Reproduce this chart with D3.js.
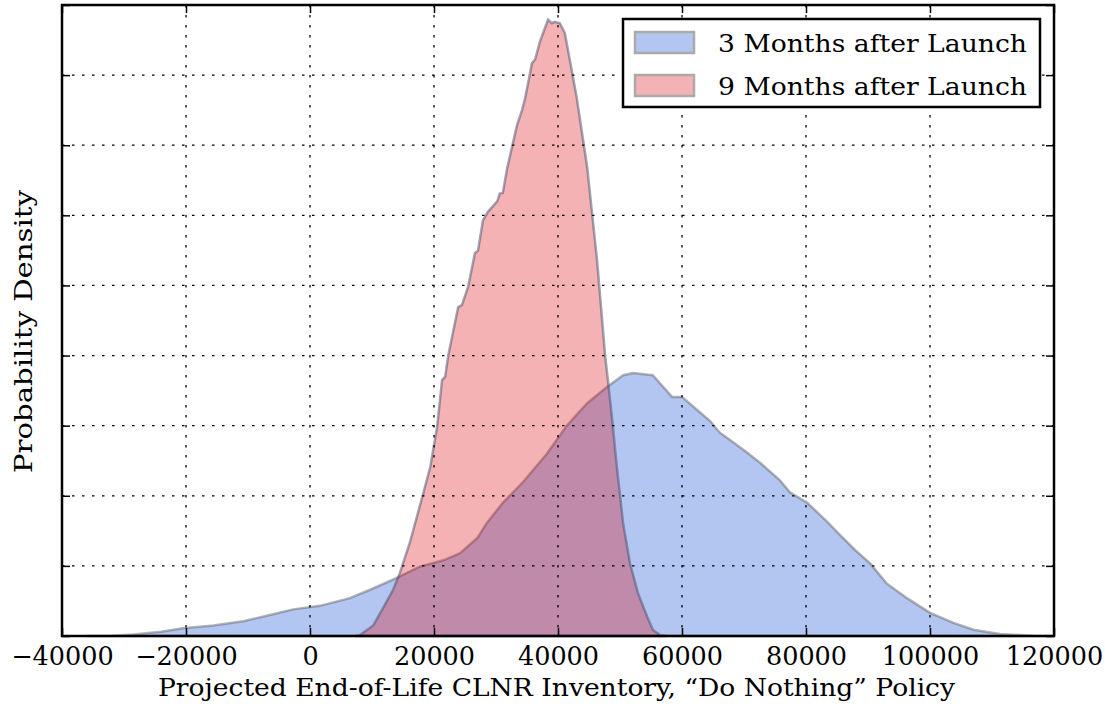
<!DOCTYPE html>
<html>
<head>
<meta charset="utf-8">
<script src="https://cdn.jsdelivr.net/npm/d3@7"></script>
<style>
  body { margin: 0; background: #fff; }
</style>
</head>
<body>
<svg id="chart" width="1105" height="715"></svg>
<script>
// series: inventory values (x) and density heights (y)
var x3 = [-36000, -32000, -28500, -24000, -20500, -15600, -10800, -7000, -2700, 1600,
          6400, 9700, 14000, 17700, 21500, 24200, 27000, 28500, 31100, 34400,
          38200, 41400, 44700, 47900, 50500, 52100, 55300, 58400, 60000, 62500,
          64500, 66100, 67700, 70000, 72600, 75800, 77400, 80200, 83400, 85500,
          88000, 90300, 93000, 96300, 100000, 103700, 107000, 111300, 116600, 120000];
var y3 = [0, 0.003, 0.02, 0.06, 0.11, 0.15, 0.21, 0.29, 0.38, 0.43,
          0.54, 0.66, 0.83, 0.99, 1.08, 1.18, 1.40, 1.61, 1.90, 2.20,
          2.60, 3.00, 3.32, 3.55, 3.72, 3.75, 3.72, 3.41, 3.41, 3.22,
          3.07, 2.90, 2.80, 2.65, 2.47, 2.22, 2.05, 1.90, 1.63, 1.44,
          1.22, 1.04, 0.75, 0.54, 0.33, 0.19, 0.09, 0.03, 0.003, 0];

var x9 = [7300, 8000, 10200, 11800, 13400, 14500, 16100, 18100, 19400, 20500,
          21300, 21800, 22300, 23900, 24500, 25500, 26600, 27100, 27900, 28700,
          30200, 30600, 31100, 31800, 32600, 33400, 34200, 34700, 35800, 36300,
          37100, 37600, 38400, 39000, 39500, 40300, 41100, 41900, 43000, 44700,
          46300, 47600, 48100, 48700, 49500, 50500, 51600, 52900, 54400, 55300,
          56500, 57500];
var y9 = [0, 0.01, 0.15, 0.40, 0.66, 0.90, 1.33, 1.98, 2.41, 2.98,
          3.65, 3.70, 4.00, 4.69, 4.72, 4.98, 5.46, 5.50, 5.93, 6.05,
          6.20, 6.31, 6.32, 6.67, 6.98, 7.29, 7.50, 7.67, 8.17, 8.22,
          8.48, 8.60, 8.79, 8.74, 8.76, 8.74, 8.60, 8.22, 7.69, 6.69,
          5.36, 4.00, 3.61, 3.12, 2.41, 1.61, 1.04, 0.61, 0.27, 0.09,
          0.01, 0];

var seriesNames = ["3 Months after Launch", "9 Months after Launch"];
var xTicks = [-40000, -20000, 0, 20000, 40000, 60000, 80000, 100000, 120000];
var yTicks = [0, 1, 2, 3, 4, 5, 6, 7, 8, 9];

var serif = "DejaVu Serif";
var svg = d3.select("#chart");
var pLeft = 62, pRight = 1054, pTop = 5, pBottom = 636;

var x = d3.scaleLinear().domain([-40000, 120000]).range([pLeft, pRight]);
var y = d3.scaleLinear().domain([0, 9]).range([pBottom, pTop]);

var area = d3.area()
  .x(function(d){ return x(d[0]); })
  .y0(y(0))
  .y1(function(d){ return y(d[1]); });

var d3m = d3.zip(x3, y3);
var d9m = d3.zip(x9, y9);

// blue first, red on top with transparency
svg.append("path").datum(d3m)
  .attr("d", area)
  .attr("fill", "rgb(179,198,242)")
  .attr("stroke", "rgba(90,90,90,0.45)")
  .attr("stroke-width", 2.5);

svg.append("path").datum(d9m)
  .attr("d", area)
  .attr("fill", "rgba(222,0,8,0.3)")
  .attr("stroke", "rgba(70,80,110,0.5)")
  .attr("stroke-width", 2.5);

// dotted grid drawn over the fills
var grid = svg.append("g").attr("stroke", "#000").attr("stroke-width", 1.3)
  .attr("stroke-dasharray", "2.5,7.5");
grid.selectAll(".gx").data(xTicks.slice(1, -1)).enter().append("line")
  .attr("x1", function(d){ return x(d); }).attr("x2", function(d){ return x(d); })
  .attr("y1", pTop).attr("y2", pBottom);
grid.selectAll(".gy").data(yTicks.slice(1, -1)).enter().append("line")
  .attr("y1", function(d){ return y(d); }).attr("y2", function(d){ return y(d); })
  .attr("x1", pLeft).attr("x2", pRight);

// axes, ticks pointing inward
var xAxis = svg.append("g").attr("transform", "translate(0," + pBottom + ")")
  .call(d3.axisBottom(x).tickValues(xTicks).tickSize(-8).tickPadding(11)
    .tickFormat(function(d){ return d < 0 ? "\u2212" + Math.abs(d) : d; }));
xAxis.select(".domain").remove();
xAxis.attr("font-family", serif).attr("font-size", 25.5);

var xTop = svg.append("g").attr("transform", "translate(0," + pTop + ")")
  .call(d3.axisTop(x).tickValues(xTicks).tickSize(-8).tickFormat(""));
xTop.select(".domain").remove();

var yLeft = svg.append("g").attr("transform", "translate(" + pLeft + ",0)")
  .call(d3.axisLeft(y).tickValues(yTicks).tickSize(-8).tickFormat(""));
yLeft.select(".domain").remove();
var yRight = svg.append("g").attr("transform", "translate(" + pRight + ",0)")
  .call(d3.axisRight(y).tickValues(yTicks).tickSize(-8).tickFormat(""));
yRight.select(".domain").remove();
svg.selectAll(".tick line").attr("stroke", "#000").attr("stroke-width", 1.5);

svg.append("rect")
  .attr("x", pLeft).attr("y", pTop)
  .attr("width", pRight - pLeft).attr("height", pBottom - pTop)
  .attr("fill", "none").attr("stroke", "#000").attr("stroke-width", 2.5);

// axis titles
svg.append("text")
  .attr("x", 158).attr("y", 696)
  .attr("textLength", 797).attr("lengthAdjust", "spacingAndGlyphs")
  .attr("font-family", serif).attr("font-size", 25)
  .text("Projected End-of-Life CLNR Inventory, \u201CDo Nothing\u201D Policy");

svg.append("text")
  .attr("transform", "translate(32,473) rotate(-90)")
  .attr("textLength", 283).attr("lengthAdjust", "spacingAndGlyphs")
  .attr("font-family", serif).attr("font-size", 25)
  .text("Probability Density");

// legend
var legend = svg.append("g");
legend.append("rect")
  .attr("x", 623).attr("y", 19).attr("width", 417).attr("height", 88)
  .attr("fill", "#fff").attr("stroke", "#000").attr("stroke-width", 2.5);
var swatch = ["rgb(179,198,242)", "rgb(245,178,181)"];
legend.selectAll(".sw").data(seriesNames).enter().append("rect")
  .attr("x", 635).attr("y", function(d, i){ return 32 + i * 43; })
  .attr("width", 59).attr("height", 21)
  .attr("fill", function(d, i){ return swatch[i]; })
  .attr("stroke", "#aaa").attr("stroke-width", 2.5);
legend.selectAll(".lt").data(seriesNames).enter().append("text")
  .attr("x", 718).attr("y", function(d, i){ return 52 + i * 43; })
  .attr("textLength", 309).attr("lengthAdjust", "spacingAndGlyphs")
  .attr("font-family", serif).attr("font-size", 25)
  .text(function(d){ return d; });
</script>
</body>
</html>
